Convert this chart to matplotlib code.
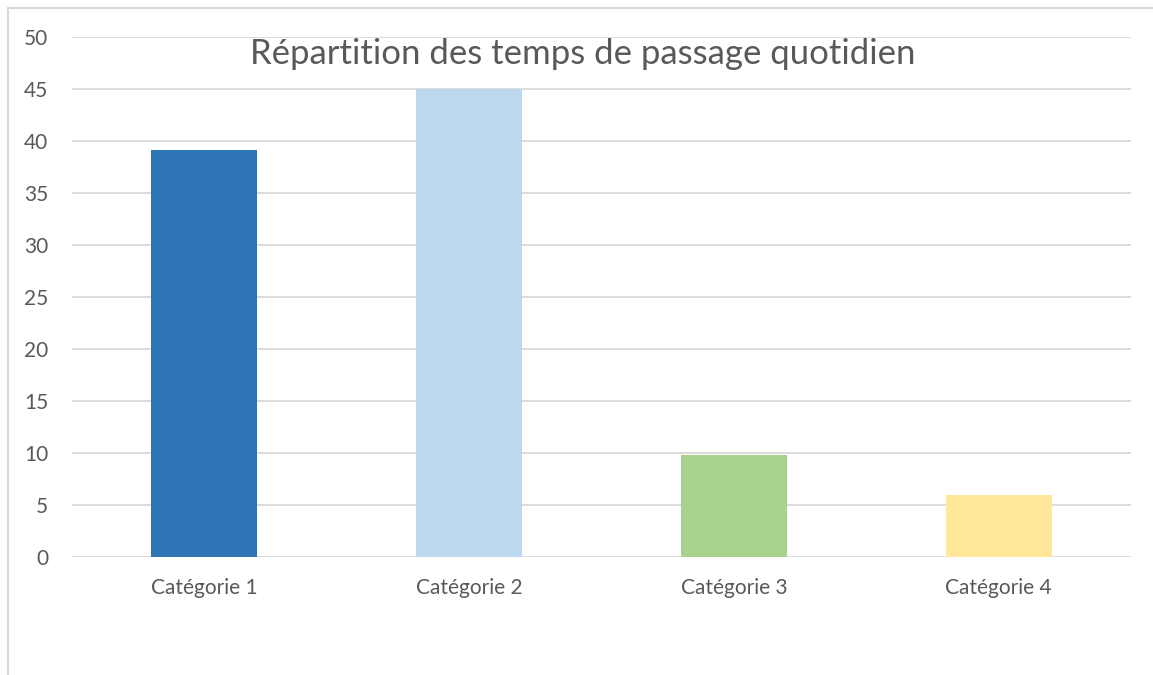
import matplotlib.pyplot as plt
from matplotlib.lines import Line2D

categories = ["Catégorie 1", "Catégorie 2", "Catégorie 3", "Catégorie 4"]
values = [39.1, 45, 9.8, 6]
colors = ["#2e75b6", "#bdd7ee", "#a9d18e", "#ffe699"]
y_ticks = [0, 5, 10, 15, 20, 25, 30, 35, 40, 45, 50]

W, H = 1153, 675
plt.rcParams['font.family'] = ['Lato', 'DejaVu Sans']
fig = plt.figure(figsize=(W / 100, H / 100), dpi=100)

ax = fig.add_axes([72 / W, (H - 557) / H, (1131 - 72) / W, 520 / H])
ax.bar(range(len(categories)), values, width=0.4, color=colors, zorder=3)
ax.set_xlim(-0.5, 3.5)
ax.set_ylim(0, 50)
ax.set_yticks(y_ticks)
ax.set_xticks(range(len(categories)))
ax.set_xticklabels(categories)
ax.yaxis.grid(True, color="#d9d9d9", linewidth=1.3, zorder=0)
for s in ax.spines.values():
    s.set_visible(False)
ax.tick_params(axis="both", length=0, labelsize=15, colors="#595959")
ax.tick_params(axis="x", pad=15)
ax.tick_params(axis="y", pad=17)

fig.text(583 / W, 1 - 54 / H, "Répartition des temps de passage quotidien",
         ha="center", va="center", fontsize=25, color="#595959")

# chart area border (left and top edges visible)
fig.add_artist(Line2D([8 / W, 8 / W], [0, 1 - 8 / H], color="#d9d9d9", linewidth=1.5, transform=fig.transFigure))
fig.add_artist(Line2D([8 / W, 1], [1 - 8 / H, 1 - 8 / H], color="#d9d9d9", linewidth=1.5, transform=fig.transFigure))

fig.savefig("out.png", dpi=100)
